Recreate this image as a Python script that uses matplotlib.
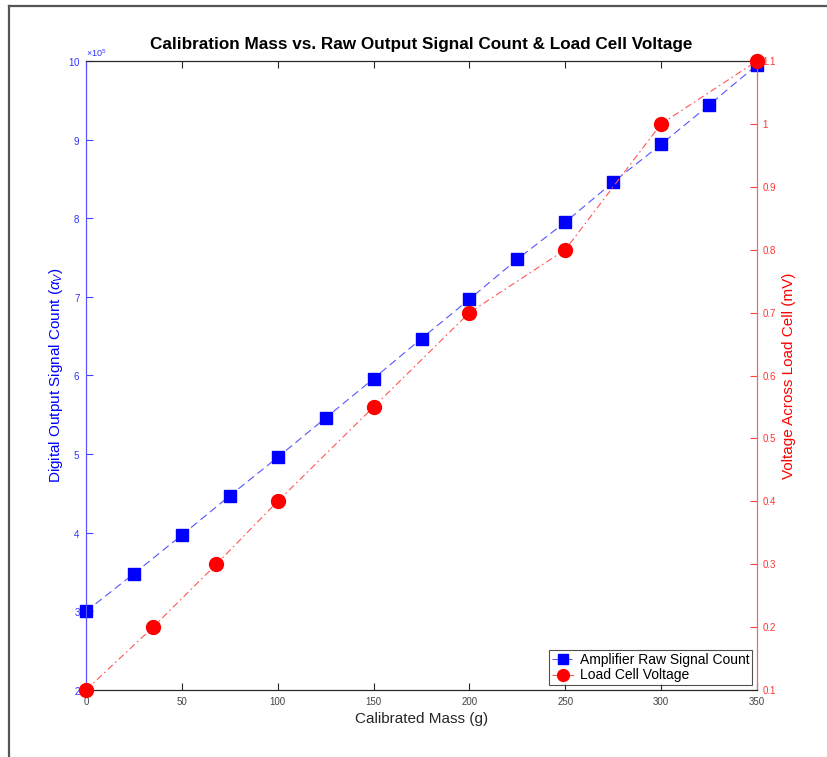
import matplotlib
matplotlib.use("Agg")
import matplotlib.pyplot as plt
from matplotlib.lines import Line2D
from matplotlib.ticker import FuncFormatter
import numpy as np

plt.rcParams["font.family"] = ["Liberation Sans", "DejaVu Sans"]
plt.rcParams["mathtext.fontset"] = "custom"
plt.rcParams["mathtext.rm"] = "Liberation Sans"
plt.rcParams["mathtext.it"] = "Liberation Sans:italic"

# data
mass_counts = [0, 25, 50, 75, 100, 125, 150, 175, 200, 225, 250, 275, 300, 325, 350]
raw_counts = [300000, 348000, 397000, 447000, 496000, 546000, 596000, 647000,
              697000, 748000, 795000, 846000, 894000, 944000, 995000]

mass_volts = [0, 35, 68, 100, 150, 200, 250, 300, 350]
cell_volts = [0.1, 0.2, 0.3, 0.4, 0.55, 0.7, 0.8, 1.0, 1.1]

blue = "#0000ff"
red = "#ff0000"
dark = "#262626"

fig = plt.figure(figsize=(8.28, 7.57), dpi=100)
ax = fig.add_axes([86/828, 67/757, 671/828, 629/757])
ax2 = ax.twinx()

l1, = ax.plot(mass_counts, raw_counts, ls=(0, (7, 4)), lw=0.8, color="#5555ff",
              marker="s", ms=8.5, mfc=blue, mec=blue, clip_on=False, zorder=3,
              label="Amplifier Raw Signal Count")
l2, = ax2.plot(mass_volts, cell_volts, ls=(0, (6, 3, 1.5, 3)), lw=0.8, color="#ff5555",
               marker="o", ms=10, mfc=red, mec=red, clip_on=False, zorder=3,
               label="Load Cell Voltage")

ax.set_xlim(0, 350)
ax.set_ylim(200000, 1000000)
ax2.set_ylim(0.1, 1.1)
ax.set_xticks(np.arange(0, 351, 50))
ax.set_yticks(np.arange(200000, 1000001, 100000))
ax2.set_yticks(np.arange(0.1, 1.11, 0.1))
ax2.yaxis.set_major_formatter(FuncFormatter(lambda v, p: "%g" % round(v, 2)))
ax.ticklabel_format(axis="y", style="sci", scilimits=(5, 5), useMathText=True)
ax.yaxis.get_offset_text().set_fontsize(6.5)
ax.yaxis.get_offset_text().set_color("#3333ff")

ax.tick_params(axis="x", direction="in", top=True, length=5, labelsize=7,
               colors=dark, labelcolor="#444444", pad=5)
ax.tick_params(axis="y", direction="in", length=5, labelsize=7, colors="#4444ff",
               labelcolor="#3333ff", pad=4)
ax2.tick_params(axis="y", direction="in", length=5, labelsize=7, colors="#ff4444",
                labelcolor="#ff3333", pad=4)

for a in (ax, ax2):
    a.spines["top"].set_color(dark)
    a.spines["bottom"].set_color(dark)
    a.spines["left"].set_color("#5555ff")
    a.spines["right"].set_color("#ee6666")
    for s in a.spines.values():
        s.set_linewidth(0.8)

ax.set_xlabel("Calibrated Mass (g)", fontsize=11, color=dark, labelpad=4)
ax.set_ylabel(r"Digital Output Signal Count ($\alpha_V$)", fontsize=11, color=blue, labelpad=2)
ax2.set_ylabel("Voltage Across Load Cell (mV)", fontsize=11, color=red, labelpad=4)
ax.set_title("Calibration Mass vs. Raw Output Signal Count & Load Cell Voltage",
             fontsize=12.3, fontweight="bold", pad=9)

leg = ax2.legend(handles=[l1, l2], loc="lower right", fontsize=10, frameon=True,
                 fancybox=False, edgecolor=dark, handlelength=1.6, borderpad=0.2,
                 labelspacing=0.1, handletextpad=0.4, borderaxespad=0.35,
                 markerscale=0.85)
leg.get_frame().set_linewidth(0.8)

# figure border like the screenshot
fig.add_artist(Line2D([9/828, 9/828], [0, 1 - 6/757], color="#555555", lw=1.6))
fig.add_artist(Line2D([9/828, 1], [1 - 6/757, 1 - 6/757], color="#555555", lw=1.6))

fig.savefig("out.png", dpi=100)
